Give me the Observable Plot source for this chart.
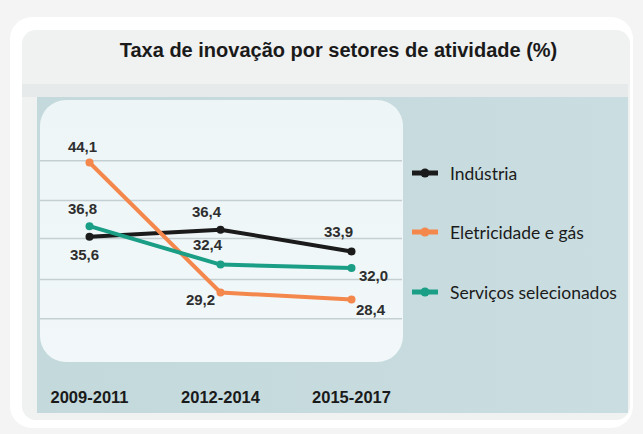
<!DOCTYPE html>
<html><head><meta charset="utf-8">
<script src="https://cdn.jsdelivr.net/npm/d3@7"></script>
<script src="https://cdn.jsdelivr.net/npm/@observablehq/plot@0.6"></script>
<style>
html,body{margin:0;padding:0;background:#f4f4f4;}
body{width:643px;height:434px;position:relative;overflow:hidden;font-family:"Liberation Sans",Arial,sans-serif;}
#card{position:absolute;left:10px;top:17px;width:623px;height:411px;background:#fff;border-radius:22px;}
#inner{position:absolute;left:22px;top:30px;width:608px;height:390px;background:#f0f1f1;border-radius:14px;}
#band{position:absolute;left:22px;top:84px;width:606px;height:13px;background:#e6eaea;}
#title{position:absolute;left:22px;top:39px;width:633px;text-align:center;font-weight:bold;font-size:20px;line-height:23px;color:#1a1a1a;white-space:nowrap;}
#panel{position:absolute;left:37px;top:97px;width:591px;height:316px;background:linear-gradient(90deg,#c3d9dc,#cadde0);}
#plotbox{position:absolute;left:40px;top:100px;width:363px;height:262px;background:linear-gradient(180deg,#edf5f7,#f2f8f9);border-radius:26px;}
#chart{position:absolute;left:37px;top:97px;}
#legend{position:absolute;left:412px;top:160px;}
.item{position:absolute;left:0;height:26px;display:flex;align-items:center;white-space:nowrap;font-family:Lato,"Open Sans",sans-serif;font-size:17.5px;color:#1a1a1a;}
.item svg{margin-right:12px;}
</style></head>
<body>
<div id="card"></div><div id="inner"></div><div id="band"></div>
<div id="title"></div>
<div id="panel"></div><div id="plotbox"></div>
<div id="chart"></div>
<div id="legend"></div>
<script>
// ---- data ----
const title = "Taxa de inovação por setores de atividade (%)";
const periods = ["2009-2011", "2012-2014", "2015-2017"];
const series = ["Indústria", "Eletricidade e gás", "Serviços selecionados"];
const industria = [35.6, 36.4, 33.9];
const eletricidade = [44.1, 29.2, 28.4];
const servicos = [36.8, 32.4, 32.0];
const gridValues = [44.3, 39.75, 35.4, 30.7, 26.2];
const colors = ["#1b1b1b", "#f4874b", "#1b9e86"];

// ---- table ----
const valuesBySeries = [industria, eletricidade, servicos];
const rows = [];
series.forEach((s, i) => periods.forEach((p, j) => rows.push({series: s, period: p, value: valuesBySeries[i][j]})));
const fmt = v => d3.format(".1f")(v).replace(".", ",");

// label placement (dx, dy) per series/period
const placement = {
  "Indústria|2009-2011": [-5, 19], "Indústria|2012-2014": [-14, -17], "Indústria|2015-2017": [-13, -19],
  "Eletricidade e gás|2009-2011": [-7, -15], "Eletricidade e gás|2012-2014": [-20, 8], "Eletricidade e gás|2015-2017": [19, 11],
  "Serviços selecionados|2009-2011": [-7, -17], "Serviços selecionados|2012-2014": [-13, -19], "Serviços selecionados|2015-2017": [22, 8]
};

document.getElementById("title").textContent = title;

const labelFont = {fontSize: 15, fontWeight: "bold", fill: "#2e2e2e"};
const labelMarks = rows.map(r => {
  const [dx, dy] = placement[r.series + "|" + r.period];
  return Plot.text([r], {x: "period", y: "value", text: d => fmt(d.value), dx, dy, ...labelFont});
});

const chart = Plot.plot({
  width: 370, height: 316,
  marginTop: 3, marginRight: 5, marginBottom: 51, marginLeft: 3,
  style: {background: "transparent", fontFamily: "'Liberation Sans', Arial, sans-serif"},
  x: {type: "point", domain: periods, range: [52, 314], padding: 0},
  y: {domain: [20, 50], range: [275.3, 13.5], axis: null},
  color: {domain: series, range: colors},
  marks: [
    Plot.ruleY(gridValues, {stroke: "#c3cfd2", strokeWidth: 1.5}),
    Plot.line(rows, {x: "period", y: "value", z: "series", stroke: "series", strokeWidth: 4}),
    Plot.dot(rows, {x: "period", y: "value", fill: "series", r: 4}),
    ...labelMarks,
    Plot.axisX({tickSize: 0, tickPadding: 29, fontSize: 16.5, fontWeight: "bold", fill: "#1a1a1a", label: null})
  ]
});
document.getElementById("chart").appendChild(chart);

// legend
const legend = d3.select("#legend");
const rowTops = [0, 59, 119];
series.forEach((s, i) => {
  const it = legend.append("div").attr("class", "item").style("top", rowTops[i] + "px");
  const sv = it.append("svg").attr("width", 26).attr("height", 12);
  sv.append("line").attr("x1", 0).attr("x2", 26).attr("y1", 6).attr("y2", 6).attr("stroke", colors[i]).attr("stroke-width", 5);
  sv.append("circle").attr("cx", 13).attr("cy", 6).attr("r", 4.5).attr("fill", colors[i]);
  it.append("span").text(s);
});
</script>
</body></html>
